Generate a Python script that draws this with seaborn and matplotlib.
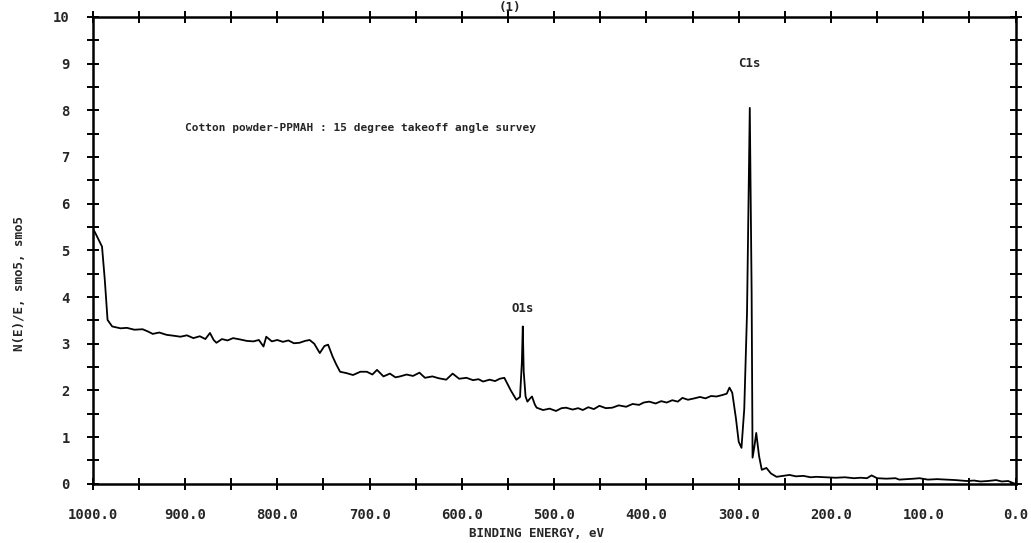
import matplotlib
matplotlib.use("Agg")

import matplotlib.pyplot as plt
import seaborn as sns
from matplotlib.ticker import MultipleLocator, FormatStrFormatter

# binding energy (eV) and N(E)/E
energy = [
    1000, 998, 990, 987, 984, 979, 970, 963, 955, 946, 940, 935, 928, 920, 912,
    905, 898, 891, 884, 878, 873, 869, 866, 860, 854, 848, 840, 833, 826, 820,
    815, 812, 806, 800, 794, 788, 782, 776, 770, 765, 760, 754, 749, 745, 740,
    736, 732, 725, 718, 710, 703, 697, 692, 685, 678, 672, 667, 660, 653, 646,
    640, 632, 625, 617, 610, 603, 595, 588, 582, 577, 570, 564, 559, 554, 547,
    541, 537, 535, 534, 533, 531, 529, 526, 524, 521, 519, 512, 505, 498, 492,
    487, 480, 474, 469, 463, 457, 451, 444, 437, 430, 422, 415, 408, 403, 397,
    390, 384, 378, 372, 366, 361, 355, 348, 342, 336, 330, 324, 318, 313, 310,
    307, 303, 300, 297, 294, 291, 289, 288, 287, 286, 285, 283, 281, 278, 275,
    270, 265, 259, 252, 245, 238, 230, 222, 216, 205, 195, 185, 175, 168, 161,
    156, 150, 140, 130, 126, 118, 110, 104, 95, 85, 75, 65, 53, 45, 38,
    30, 21, 15, 8, 3, 0,
]
intensity = [
    5.45, 5.40, 5.08, 4.37, 3.51, 3.37, 3.33, 3.34, 3.30, 3.31, 3.26, 3.21, 3.24, 3.19, 3.17,
    3.15, 3.18, 3.12, 3.16, 3.10, 3.23, 3.08, 3.02, 3.10, 3.07, 3.12, 3.09, 3.06, 3.05, 3.08,
    2.94, 3.15, 3.05, 3.08, 3.04, 3.07, 3.01, 3.02, 3.06, 3.08, 3.00, 2.80, 2.95, 2.98, 2.72,
    2.55, 2.40, 2.37, 2.33, 2.40, 2.40, 2.34, 2.44, 2.30, 2.36, 2.28, 2.30, 2.34, 2.31, 2.38,
    2.27, 2.30, 2.26, 2.23, 2.36, 2.25, 2.27, 2.22, 2.24, 2.19, 2.23, 2.20, 2.25, 2.27, 2.00,
    1.80, 1.86, 2.60, 3.37, 2.40, 1.87, 1.76, 1.83, 1.87, 1.70, 1.63, 1.58, 1.61, 1.56, 1.62,
    1.63, 1.59, 1.62, 1.58, 1.64, 1.60, 1.67, 1.62, 1.63, 1.68, 1.65, 1.71, 1.69, 1.74, 1.76,
    1.72, 1.77, 1.74, 1.79, 1.76, 1.84, 1.80, 1.83, 1.86, 1.83, 1.88, 1.87, 1.90, 1.93, 2.06,
    1.95, 1.40, 0.90, 0.77, 1.60, 3.66, 6.50, 8.05, 6.00, 4.10, 0.56, 0.80, 1.09, 0.60, 0.30,
    0.34, 0.22, 0.15, 0.17, 0.19, 0.16, 0.17, 0.14, 0.15, 0.14, 0.13, 0.14, 0.12, 0.13, 0.12,
    0.18, 0.12, 0.11, 0.12, 0.09, 0.10, 0.11, 0.12, 0.09, 0.10, 0.09, 0.08, 0.06, 0.07, 0.05,
    0.06, 0.08, 0.05, 0.06, 0.02, 0.00,
]

x_ticks = [1000, 900, 800, 700, 600, 500, 400, 300, 200, 100, 0]
peak_labels = [("C1s", 288, 9.0), ("O1s", 534, 3.75)]
note = "Cotton powder-PPMAH : 15 degree takeoff angle survey"

sns.set_style("ticks")
plt.rcParams["font.family"] = ["DejaVu Sans Mono", "DejaVu Sans"]
plt.rcParams["font.weight"] = "bold"

fig = plt.figure(figsize=(10.31, 5.43), dpi=100)
ax = fig.add_axes([0.090, 0.109, 0.895, 0.860])

sns.lineplot(x=energy, y=intensity, ax=ax, color="black", linewidth=1.3,
             sort=False, estimator=None)

ax.set_xlim(1000, 0)
ax.set_ylim(0, 10)
ax.set_xticks(x_ticks)
ax.xaxis.set_major_formatter(FormatStrFormatter("%.1f"))
ax.xaxis.set_minor_locator(MultipleLocator(50))
ax.yaxis.set_major_locator(MultipleLocator(1))
ax.yaxis.set_minor_locator(MultipleLocator(0.5))

for side in ax.spines.values():
    side.set_linewidth(1.8)
    side.set_color("black")
ax.tick_params(which="both", direction="inout", top=True, right=True,
               length=9, width=1.4, color="black")
ax.tick_params(axis="x", labelsize=10, pad=13)
ax.tick_params(axis="y", labelsize=10, pad=12)

ax.set_xlabel("")
ax.text(0.481, -0.106, "BINDING ENERGY, eV", transform=ax.transAxes,
        fontsize=9, fontweight="bold", ha="center", va="center")
ax.set_ylabel("N(E)/E, smo5, smo5", fontsize=9, fontweight="bold")
ax.yaxis.set_label_coords(-0.072, 0.43)

ax.text(900, 7.62, note, fontsize=8, fontweight="bold", va="center", ha="left")
for name, xpos, ypos in peak_labels:
    ax.text(xpos, ypos, name, fontsize=9, fontweight="bold", ha="center", va="center")

fig.text(0.495, 0.986, "(1)", fontsize=9, fontweight="bold", ha="center", va="center")

fig.savefig("out.png", dpi=100, facecolor="white")
plt.close()
